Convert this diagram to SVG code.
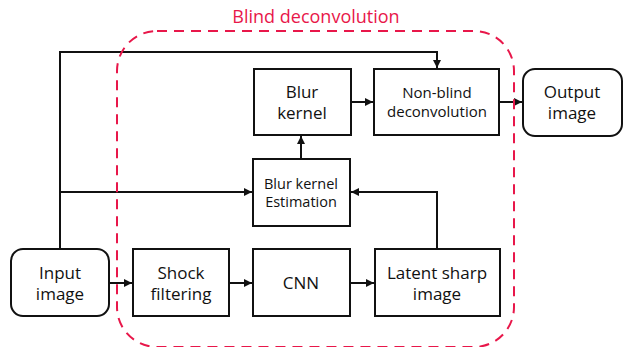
<svg xmlns="http://www.w3.org/2000/svg" width="624" height="347" viewBox="0 0 624 347">
  <defs>
    <marker id="arrow" viewBox="0 0 8 8" refX="8" refY="4" markerWidth="8" markerHeight="8" markerUnits="userSpaceOnUse" orient="auto">
      <path d="M0,0 L8,4 L0,8 z" fill="#111"/>
    </marker>
    <style>
      .box { fill: #fff; stroke: #111; stroke-width: 2; }
      .conn { fill: none; stroke: #111; stroke-width: 2; }
      .lbl { font-family: "Open Sans", "Noto Sans", "DejaVu Sans", sans-serif; fill: #111; text-anchor: middle; }
      .big { font-size: 17px; }
      .mid { font-size: 15px; }
      .small { font-size: 14.5px; }
      .region { fill: none; stroke: #e8174a; stroke-width: 2; stroke-dasharray: 10 7; }
      .title { font-family: "Open Sans", "Noto Sans", "DejaVu Sans", sans-serif; font-size: 18px; fill: #e8174a; text-anchor: middle; }
    </style>
  </defs>

  <!-- connectors -->
  <g id="connectors">
    <path class="conn" d="M60,249 V52 H437 V68" marker-end="url(#arrow)"/>
    <path class="conn" d="M60,192 H252" marker-end="url(#arrow)"/>
    <path class="conn" d="M109,283 H132" marker-end="url(#arrow)"/>
    <path class="conn" d="M229,283 H252" marker-end="url(#arrow)"/>
    <path class="conn" d="M350,283 H374" marker-end="url(#arrow)"/>
    <path class="conn" d="M437,249 V192 H351" marker-end="url(#arrow)"/>
    <path class="conn" d="M301,159 V136" marker-end="url(#arrow)"/>
    <path class="conn" d="M351,102 H373" marker-end="url(#arrow)"/>
    <path class="conn" d="M499,102 H522" marker-end="url(#arrow)"/>
  </g>

  <!-- nodes -->
  <g id="input-image">
    <rect class="box" x="11" y="249" width="98" height="67" rx="12"/>
    <text class="lbl big" x="60" y="279">Input</text>
    <text class="lbl big" x="60" y="300">image</text>
  </g>
  <g id="shock-filtering">
    <rect class="box" x="133" y="249" width="96" height="67"/>
    <text class="lbl big" x="181" y="279">Shock</text>
    <text class="lbl big" x="181" y="300">filtering</text>
  </g>
  <g id="cnn">
    <rect class="box" x="253" y="249" width="97" height="67"/>
    <text class="lbl big" x="301" y="289">CNN</text>
  </g>
  <g id="latent-sharp-image">
    <rect class="box" x="375" y="249" width="125" height="67"/>
    <text class="lbl big" x="437" y="279">Latent sharp</text>
    <text class="lbl big" x="437" y="300">image</text>
  </g>
  <g id="blur-kernel-estimation">
    <rect class="box" x="253" y="159" width="97" height="67"/>
    <text class="lbl small" x="301" y="189">Blur kernel</text>
    <text class="lbl small" x="301" y="207">Estimation</text>
  </g>
  <g id="blur-kernel">
    <rect class="box" x="254" y="69" width="97" height="66"/>
    <text class="lbl big" x="302" y="98">Blur</text>
    <text class="lbl big" x="302" y="119">kernel</text>
  </g>
  <g id="non-blind-deconvolution">
    <rect class="box" x="374" y="69" width="125" height="66"/>
    <text class="lbl mid" x="437" y="98">Non-blind</text>
    <text class="lbl mid" x="437" y="117">deconvolution</text>
  </g>
  <g id="output-image">
    <rect class="box" x="523" y="69" width="99" height="67" rx="12"/>
    <text class="lbl big" x="572" y="98">Output</text>
    <text class="lbl big" x="572" y="119">image</text>
  </g>

  <!-- blind deconvolution region -->
  <g id="blind-deconvolution">
    <rect class="region" x="117" y="31" width="397" height="316" rx="40"/>
    <text class="title" x="316" y="23">Blind deconvolution</text>
  </g>
</svg>
